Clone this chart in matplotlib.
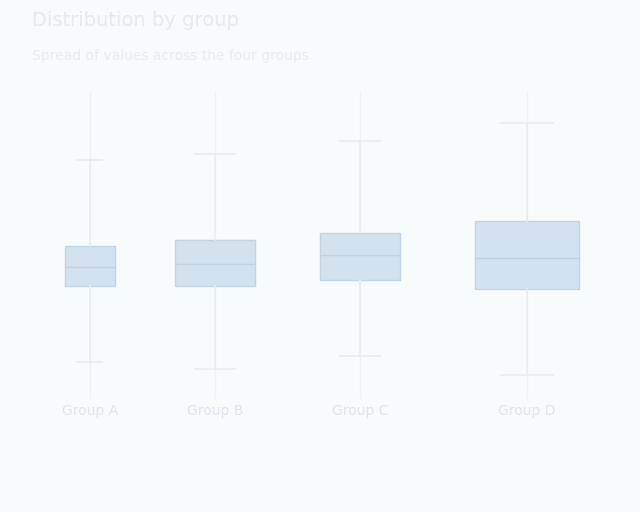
import matplotlib
matplotlib.use("Agg")
import matplotlib.pyplot as plt

groups = ["Group A", "Group B", "Group C", "Group D"]
x_pos = [1.03, 3.19, 5.69, 8.57]
box_w = [0.86, 1.38, 1.38, 1.81]
q1 = [37, 37, 39, 36]
q3 = [50, 52, 54, 58]
med = [43, 44, 47, 46]
low = [12, 10, 14, 8]
high = [78, 80, 84, 90]

stats = []
for g, a, m, b, lo, hi in zip(groups, q1, med, q3, low, high):
    stats.append({"label": g, "q1": a, "med": m, "q3": b,
                  "whislo": lo, "whishi": hi, "fliers": []})

bg = "#f7fbfc"
fig = plt.figure(figsize=(6.4, 5.12), dpi=100, facecolor=bg)
ax = fig.add_axes([0.047, 0.22, 0.906, 0.6], facecolor=bg)

bp = ax.bxp(stats, positions=x_pos, widths=box_w, patch_artist=True,
            showfliers=False)
for patch in bp["boxes"]:
    patch.set_facecolor("#d3e2ef")
    patch.set_edgecolor("#c2d5e6")
for key in ("whiskers", "caps"):
    for ln in bp[key]:
        ln.set_color("#e6eef4")
        ln.set_linewidth(1.2)
for ln in bp["medians"]:
    ln.set_color("#c0d3e4")

ax.set_xlim(0, 10)
ax.set_ylim(0, 100)
for s in ax.spines.values():
    s.set_visible(False)
ax.tick_params(colors="#e2e9ee", labelcolor="#dfe7ec", length=0)
ax.set_yticks([])
ax.grid(axis="x", color="#eef3f6", linewidth=1)

fig.text(0.05, 0.96, "Distribution by group", fontsize=14, color="#e4ecf0",
         ha="left", va="center")
fig.text(0.05, 0.89, "Spread of values across the four groups",
         fontsize=10, color="#e8eef2", ha="left", va="center")

plt.savefig("out.png", dpi=100, facecolor=bg)
